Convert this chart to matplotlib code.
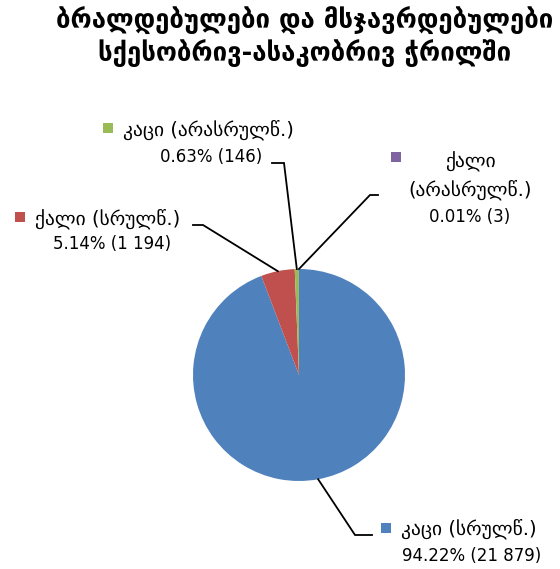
import numpy as np
import matplotlib
matplotlib.use("Agg")
import matplotlib.pyplot as plt

plt.rcParams["font.family"] = ["DejaVu Sans"]

TITLE = "ბრალდებულები და მსჯავრდებულები\nსქესობრივ-ასაკობრივ ჭრილში"
categories = ["კაცი (სრულწ.)", "ქალი (სრულწ.)", "კაცი (არასრულწ.)", "ქალი (არასრულწ.)"]
counts = [21879, 1194, 146, 3]
percents = ["94.22%", "5.14%", "0.63%", "0.01%"]
count_labels = ["21 879", "1 194", "146", "3"]
colors = ["#4F81BD", "#C0504D", "#9BBB59", "#8064A2"]

W, H = 560, 569
fig = plt.figure(figsize=(W / 100, H / 100), dpi=100)
ax = fig.add_axes([0, 0, 1, 1])

cx, cy, r = 299, 375, 106
# y axis inverted, so counterclock=True draws clockwise on screen
wedges, _ = ax.pie(counts, colors=colors, startangle=-90, counterclock=True,
                   center=(cx, cy), radius=r, frame=True,
                   wedgeprops=dict(linewidth=0))
ax.set_xlim(0, W)
ax.set_ylim(H, 0)
ax.set_aspect("equal")
ax.axis("off")


def anchor(w):
    ang = np.deg2rad((w.theta1 + w.theta2) / 2)
    return cx + r * np.cos(ang), cy + r * np.sin(ang)


fs_geo = 14
fs_num = 12
layout = {
    0: dict(sq=(386, 528), lines=[(401, 529, "left", categories[0], fs_geo),
                                   (402, 556, "left", f"{percents[0]} ({count_labels[0]})", fs_num)],
            elbow=[(372, 535), (355, 535)]),
    1: dict(sq=(20, 217), lines=[(35, 219, "left", categories[1], fs_geo),
                                  (112, 244, "center", f"{percents[1]} ({count_labels[1]})", fs_num)],
            elbow=[(193, 225), (203, 225)]),
    2: dict(sq=(108, 128), lines=[(123, 130, "left", categories[2], fs_geo),
                                   (211, 157, "center", f"{percents[2]} ({count_labels[2]})", fs_num)],
            elbow=[(272, 163), (284, 163)]),
    3: dict(sq=(396, 157), lines=[(470, 162, "center", "ქალი", fs_geo),
                                   (470, 190, "center", "(არასრულწ.)", fs_geo),
                                   (470, 217, "center", f"{percents[3]} ({count_labels[3]})", fs_num)],
            elbow=[(378, 195), (370, 195)]),
}

for i, w in enumerate(wedges):
    spec = layout[i]
    ax.scatter([spec["sq"][0]], [spec["sq"][1]], marker="s", s=60, color=colors[i], linewidths=0)
    for x, y, ha, txt, fs in spec["lines"]:
        ax.text(x, y, txt, ha=ha, va="center", fontsize=fs, color="black")
    ax_, ay_ = anchor(w)
    pts = spec["elbow"] + [(ax_, ay_)]
    ax.plot([p[0] for p in pts], [p[1] for p in pts], color="black", linewidth=1.3,
            solid_joinstyle="miter")

ax.text(305, 37, TITLE, ha="center", va="center", fontsize=18.5, fontweight="bold",
        linespacing=1.15)

fig.savefig("out.png", dpi=100)
